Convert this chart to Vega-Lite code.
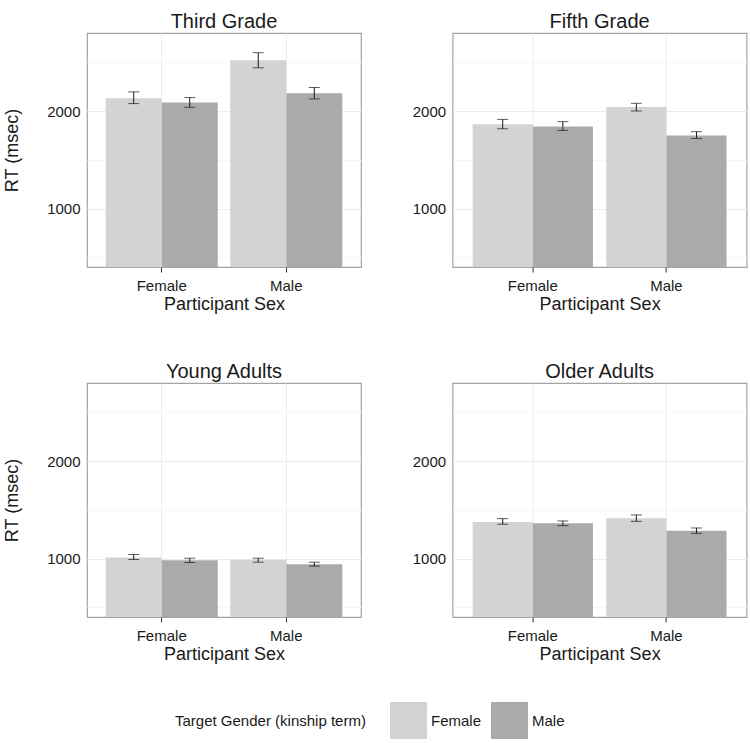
{
  "$schema": "https://vega.github.io/schema/vega-lite/v6.json",
  "background": "white",
  "padding": {"left": 3, "top": 11, "right": 3, "bottom": 2},
  "config": {
    "font": "Liberation Sans",
    "view": {"stroke": "#a3a3a3", "strokeWidth": 1.2},
    "axis": {"labelFont": "Liberation Sans", "titleFont": "Liberation Sans", "labelFontSize": 15, "titleFontSize": 18, "titleFontWeight": "normal", "labelColor": "#1a1a1a", "titleColor": "#1a1a1a", "tickColor": "#333333", "tickSize": 5, "labelPadding": 2, "domain": false, "gridColor": "#ebebeb", "gridWidth": 1},
    "axisX": {"labelPadding": 6, "titlePadding": 2},
    "axisY": {"format": "d", "values": [500, 1000, 1500, 2000, 2500], "labelExpr": "datum.value % 1000 == 0 ? datum.label : ''", "tickOpacity": {"condition": {"test": "datum.value % 1000 == 0", "value": 1}, "value": 0}, "gridColor": {"condition": {"test": "datum.value % 1000 == 0", "value": "#ebebeb"}, "value": "#f6f6f6"}},
    "title": {"font": "Liberation Sans", "fontSize": 20, "fontWeight": "normal", "color": "#1a1a1a", "offset": 1},
    "legend": {"labelFont": "Liberation Sans", "titleFont": "Liberation Sans", "labelFontSize": 15, "titleFontSize": 15, "titleFontWeight": "normal", "labelColor": "#1a1a1a", "titleColor": "#1a1a1a", "titleLimit": 400}
  },
  "data": {"values": [
    {"group": "Third Grade", "sex": "Female", "target": "Female", "rt": 2131, "lo": 2076, "hi": 2196},
    {"group": "Third Grade", "sex": "Female", "target": "Male", "rt": 2087, "lo": 2038, "hi": 2138},
    {"group": "Third Grade", "sex": "Male", "target": "Female", "rt": 2520, "lo": 2443, "hi": 2598},
    {"group": "Third Grade", "sex": "Male", "target": "Male", "rt": 2182, "lo": 2124, "hi": 2241},
    {"group": "Fifth Grade", "sex": "Female", "target": "Female", "rt": 1863, "lo": 1818, "hi": 1914},
    {"group": "Fifth Grade", "sex": "Female", "target": "Male", "rt": 1842, "lo": 1801, "hi": 1891},
    {"group": "Fifth Grade", "sex": "Male", "target": "Female", "rt": 2040, "lo": 2000, "hi": 2079},
    {"group": "Fifth Grade", "sex": "Male", "target": "Male", "rt": 1749, "lo": 1718, "hi": 1788},
    {"group": "Young Adults", "sex": "Female", "target": "Female", "rt": 1010, "lo": 990, "hi": 1041},
    {"group": "Young Adults", "sex": "Female", "target": "Male", "rt": 983, "lo": 959, "hi": 1003},
    {"group": "Young Adults", "sex": "Male", "target": "Female", "rt": 986, "lo": 962, "hi": 1003},
    {"group": "Young Adults", "sex": "Male", "target": "Male", "rt": 942, "lo": 922, "hi": 962},
    {"group": "Older Adults", "sex": "Female", "target": "Female", "rt": 1375, "lo": 1351, "hi": 1409},
    {"group": "Older Adults", "sex": "Female", "target": "Male", "rt": 1361, "lo": 1337, "hi": 1385},
    {"group": "Older Adults", "sex": "Male", "target": "Female", "rt": 1412, "lo": 1381, "hi": 1447},
    {"group": "Older Adults", "sex": "Male", "target": "Male", "rt": 1285, "lo": 1258, "hi": 1313}
  ]},
  "columns": 2,
  "bounds": "flush",
  "align": "each",
  "spacing": {"row": 116, "column": 91.6},
  "concat": [
    {
      "width": 274, "height": 234,
      "title": "Third Grade",
      "transform": [{"filter": "datum.group == 'Third Grade'"}],
      "encoding": {
        "x": {"field": "sex", "type": "nominal", "scale": {"paddingInner": 0.1, "paddingOuter": 0.15}, "axis": {"title": "Participant Sex", "labelAngle": 0, "grid": true}},
        "xOffset": {"field": "target", "type": "nominal", "scale": {"paddingInner": 0, "paddingOuter": 0}}
      },
      "layer": [
        {"mark": {"type": "bar", "clip": true},
         "encoding": {"y": {"field": "rt", "type": "quantitative", "scale": {"domain": [400, 2800], "nice": false, "zero": false}, "axis": {"title": "RT (msec)", "grid": true, "titlePadding": 25}},
           "color": {"field": "target", "type": "nominal", "scale": {"domain": ["Female", "Male"], "range": ["#d3d3d3", "#aaaaaa"]}, "legend": {"title": "Target Gender (kinship term)", "orient": "none", "legendX": 88, "legendY": 669, "direction": "horizontal", "titleOrient": "left", "titleAnchor": "middle", "titleBaseline": "middle", "titlePadding": 24, "symbolType": "square", "symbolSize": 1369, "symbolStrokeWidth": 0, "symbolOpacity": 1, "labelOffset": 4, "columnPadding": 9}}}},
        {"mark": {"type": "rule", "color": "#1a1a1a", "strokeWidth": 1}, "encoding": {"y": {"field": "lo", "type": "quantitative"}, "y2": {"field": "hi"}}},
        {"mark": {"type": "tick", "orient": "horizontal", "color": "#1a1a1a", "size": 11, "thickness": 1}, "encoding": {"y": {"field": "lo", "type": "quantitative"}}},
        {"mark": {"type": "tick", "orient": "horizontal", "color": "#1a1a1a", "size": 11, "thickness": 1}, "encoding": {"y": {"field": "hi", "type": "quantitative"}}}
      ]
    },
    {
      "width": 294, "height": 234,
      "title": "Fifth Grade",
      "transform": [{"filter": "datum.group == 'Fifth Grade'"}],
      "encoding": {
        "x": {"field": "sex", "type": "nominal", "scale": {"paddingInner": 0.1, "paddingOuter": 0.15}, "axis": {"title": "Participant Sex", "labelAngle": 0, "grid": true}},
        "xOffset": {"field": "target", "type": "nominal", "scale": {"paddingInner": 0, "paddingOuter": 0}}
      },
      "layer": [
        {"mark": {"type": "bar", "clip": true},
         "encoding": {"y": {"field": "rt", "type": "quantitative", "scale": {"domain": [400, 2800], "nice": false, "zero": false}, "axis": {"title": null, "grid": true}},
           "color": {"field": "target", "type": "nominal", "scale": {"domain": ["Female", "Male"], "range": ["#d3d3d3", "#aaaaaa"]}}}},
        {"mark": {"type": "rule", "color": "#1a1a1a", "strokeWidth": 1}, "encoding": {"y": {"field": "lo", "type": "quantitative"}, "y2": {"field": "hi"}}},
        {"mark": {"type": "tick", "orient": "horizontal", "color": "#1a1a1a", "size": 11, "thickness": 1}, "encoding": {"y": {"field": "lo", "type": "quantitative"}}},
        {"mark": {"type": "tick", "orient": "horizontal", "color": "#1a1a1a", "size": 11, "thickness": 1}, "encoding": {"y": {"field": "hi", "type": "quantitative"}}}
      ]
    },
    {
      "width": 274, "height": 234,
      "title": "Young Adults",
      "transform": [{"filter": "datum.group == 'Young Adults'"}],
      "encoding": {
        "x": {"field": "sex", "type": "nominal", "scale": {"paddingInner": 0.1, "paddingOuter": 0.15}, "axis": {"title": "Participant Sex", "labelAngle": 0, "grid": true}},
        "xOffset": {"field": "target", "type": "nominal", "scale": {"paddingInner": 0, "paddingOuter": 0}}
      },
      "layer": [
        {"mark": {"type": "bar", "clip": true},
         "encoding": {"y": {"field": "rt", "type": "quantitative", "scale": {"domain": [400, 2800], "nice": false, "zero": false}, "axis": {"title": "RT (msec)", "grid": true, "titlePadding": 25}},
           "color": {"field": "target", "type": "nominal", "scale": {"domain": ["Female", "Male"], "range": ["#d3d3d3", "#aaaaaa"]}}}},
        {"mark": {"type": "rule", "color": "#1a1a1a", "strokeWidth": 1}, "encoding": {"y": {"field": "lo", "type": "quantitative"}, "y2": {"field": "hi"}}},
        {"mark": {"type": "tick", "orient": "horizontal", "color": "#1a1a1a", "size": 11, "thickness": 1}, "encoding": {"y": {"field": "lo", "type": "quantitative"}}},
        {"mark": {"type": "tick", "orient": "horizontal", "color": "#1a1a1a", "size": 11, "thickness": 1}, "encoding": {"y": {"field": "hi", "type": "quantitative"}}}
      ]
    },
    {
      "width": 294, "height": 234,
      "title": "Older Adults",
      "transform": [{"filter": "datum.group == 'Older Adults'"}],
      "encoding": {
        "x": {"field": "sex", "type": "nominal", "scale": {"paddingInner": 0.1, "paddingOuter": 0.15}, "axis": {"title": "Participant Sex", "labelAngle": 0, "grid": true}},
        "xOffset": {"field": "target", "type": "nominal", "scale": {"paddingInner": 0, "paddingOuter": 0}}
      },
      "layer": [
        {"mark": {"type": "bar", "clip": true},
         "encoding": {"y": {"field": "rt", "type": "quantitative", "scale": {"domain": [400, 2800], "nice": false, "zero": false}, "axis": {"title": null, "grid": true}},
           "color": {"field": "target", "type": "nominal", "scale": {"domain": ["Female", "Male"], "range": ["#d3d3d3", "#aaaaaa"]}}}},
        {"mark": {"type": "rule", "color": "#1a1a1a", "strokeWidth": 1}, "encoding": {"y": {"field": "lo", "type": "quantitative"}, "y2": {"field": "hi"}}},
        {"mark": {"type": "tick", "orient": "horizontal", "color": "#1a1a1a", "size": 11, "thickness": 1}, "encoding": {"y": {"field": "lo", "type": "quantitative"}}},
        {"mark": {"type": "tick", "orient": "horizontal", "color": "#1a1a1a", "size": 11, "thickness": 1}, "encoding": {"y": {"field": "hi", "type": "quantitative"}}}
      ]
    }
  ],
  "resolve": {"scale": {"x": "independent", "y": "independent", "xOffset": "independent"}}
}
